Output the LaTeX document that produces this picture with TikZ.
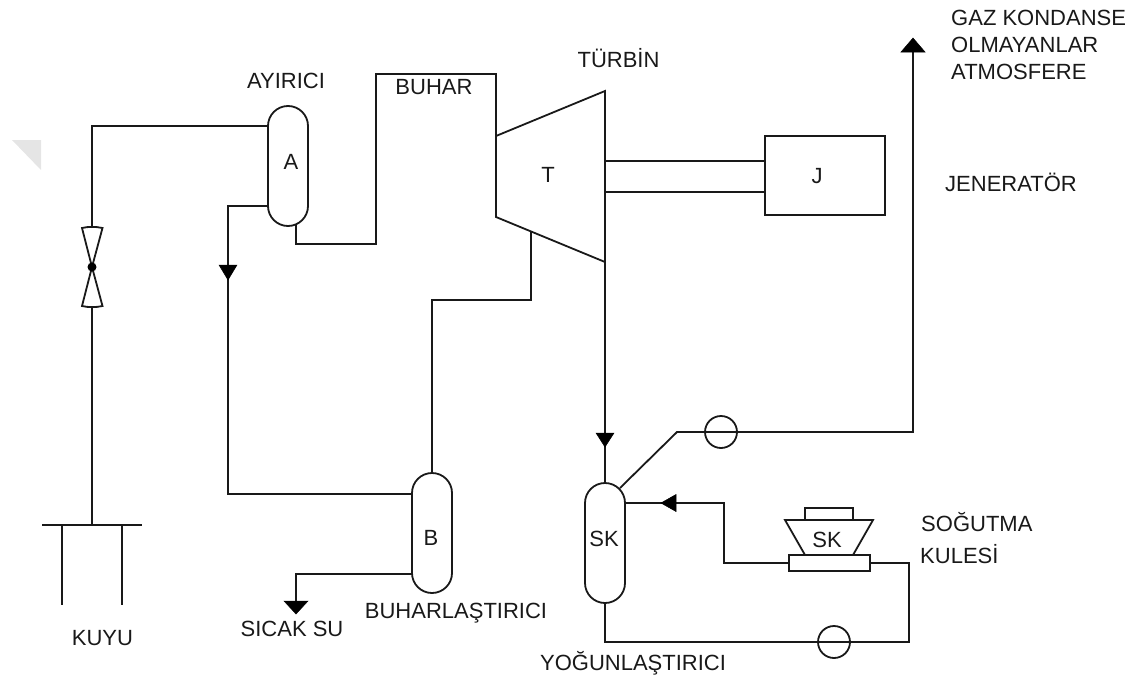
\documentclass[tikz,border=0pt]{standalone}
\usepackage{fontspec}
\setmainfont{Liberation Sans}
\begin{document}
\begin{tikzpicture}[x=1pt,y=-1pt,
  pipe/.style={draw=black!90,line width=1.8pt,line join=miter},
  vessel/.style={draw=black!90,line width=1.8pt,rectangle,rounded corners=20pt,minimum width=40pt,minimum height=120pt,inner sep=0pt},
  pump/.style={draw=black!90,line width=1.8pt,circle,minimum size=32pt,inner sep=0pt},
  tip/.style={fill=black,draw=black,line width=0.5pt,line join=miter},
  lbl/.style={inner sep=0pt,font=\fontsize{22}{26}\selectfont,text=black!90,text height=15.8pt,text depth=0pt},
  lleft/.style={lbl,anchor=west}]
\useasboundingbox (0,0) rectangle (1138,680);
\fill[black!10] (12,140) -- (41,140) -- (41,170) -- cycle;
% vessels
\node[vessel] (A) at (288,166) {};
\node[lbl] (Atxt) at (291,162) {A};
\node[vessel] (B) at (432,533) {};
\node[lbl] (Btxt) at (431,538) {B};
\node[vessel] (SKv) at (605,543) {};
\node[lbl] (SKvt) at (604,539) {SK};
% turbine
\coordinate (Tul) at (496,136);
\coordinate (Tur) at (605,91);
\coordinate (Tlr) at (605,262);
\coordinate (Tll) at (496,217);
\draw[pipe] (Tul) -- (Tur) -- (Tlr) -- (Tll) -- cycle;
\node[lbl] (Ttxt) at (548,175) {T};
% generator
\node[draw=black!90,line width=1.8pt,minimum width=120pt,minimum height=79pt,inner sep=0pt] (J) at (825,175.5) {};
\node[lbl] (Jtxt) at (817,176) {J};
\coordinate (Sa) at (605,161); \coordinate (Sb) at (765,161);
\coordinate (Sc) at (605,192); \coordinate (Sd) at (765,192);
\draw[pipe] (Sa) -- (Sb); \draw[pipe] (Sc) -- (Sd);
% well
\coordinate (Wa) at (42,525); \coordinate (Wb) at (142,525);
\coordinate (Wc) at (92,525);
\draw[pipe] (Wa) -- (Wb);
\draw[pipe] (62,525) -- (62,605);
\draw[pipe] (122,525) -- (122,605);
% valve
\coordinate (Vt) at (92,228); \coordinate (Vc) at (92,267); \coordinate (Vb) at (92,306);
\draw[pipe] (82,228) .. controls (88,226.5) and (96,226.5) .. (102.5,228) -- (Vc) -- cycle;
\draw[pipe] (82,306) .. controls (88,307.5) and (96,307.5) .. (102.5,306) -- (Vc) -- cycle;
\fill[black] (Vc) circle (4.5);
\draw[pipe] (Wc) -- (Vb);
\draw[pipe] (Vt) -- (92,126) -- (268,126);
% separator liquid to evaporator
\draw[pipe] (268,206) -- (228,206) -- (228,494) -- (412,494);
\fill[tip] (219,265) -- (237,265) -- (228,280) -- cycle;
% steam line
\draw[pipe] (296,225) -- (296,244) -- (376,244) -- (376,74) -- (496,74) -- (Tul);
% turbine to evaporator
\draw[pipe] (531,231) -- (531,300) -- (432,300) -- (B.north);
% turbine to condenser
\draw[pipe] (Tlr) -- (SKv.north);
\fill[tip] (596,433) -- (614,433) -- (605,447) -- cycle;
% non-condensable gas
\node[pump] (P1) at (721,432) {};
\draw[pipe] (620,488) -- (677,432) -- (913,432) -- (913,50);
\fill[tip] (901,52) -- (925,52) -- (913,38) -- cycle;
% cooling tower
\node[draw=black!90,line width=1.8pt,minimum width=81pt,minimum height=16pt,inner sep=0pt] (Base) at (829.5,563) {};
\draw[pipe] (805,555) -- (785,520) -- (873,520) -- (853,555);
\draw[pipe] (805,520) -- (805,508) -- (853,508) -- (853,520);
\node[lbl] (SKt) at (827,540) {SK};
\draw[pipe] (SKv.east |- 0,503) -- (724,503) -- (724,563) -- (Base.west);
\fill[tip] (661,503) -- (676,494.5) -- (676,511.5) -- cycle;
\node[pump] (P2) at (834,642) {};
\draw[pipe] (Base.east) -- (909,563) -- (909,642) -- (605,642) -- (SKv.south);
% evaporator brine
\draw[pipe] (412,574) -- (296,574) -- (296,604);
\fill[tip] (284,601) -- (308,601) -- (296,614) -- cycle;
% labels
\node[lbl] (l1) at (286,81) {AYIRICI};
\node[lbl] (l2) at (434,87) {BUHAR};
\node[lbl] (l3) at (618.5,60) {TÜRBİN};
\node[lleft] (l4) at (951,18) {GAZ KONDANSE};
\node[lleft] (l5) at (951,45) {OLMAYANLAR};
\node[lleft] (l6) at (951,72) {ATMOSFERE};
\node[lbl] (l7) at (1011,184) {JENERATÖR};
\node[lleft] (l8) at (921,524) {SOĞUTMA};
\node[lleft] (l9) at (920,556) {KULESİ};
\node[lbl] (l10) at (456,611) {BUHARLAŞTIRICI};
\node[lbl] (l11) at (292,629) {SICAK SU};
\node[lbl] (l12) at (102.5,638) {KUYU};
\node[lbl] (l13) at (633,663) {YOĞUNLAŞTIRICI};
\end{tikzpicture}
\end{document}
